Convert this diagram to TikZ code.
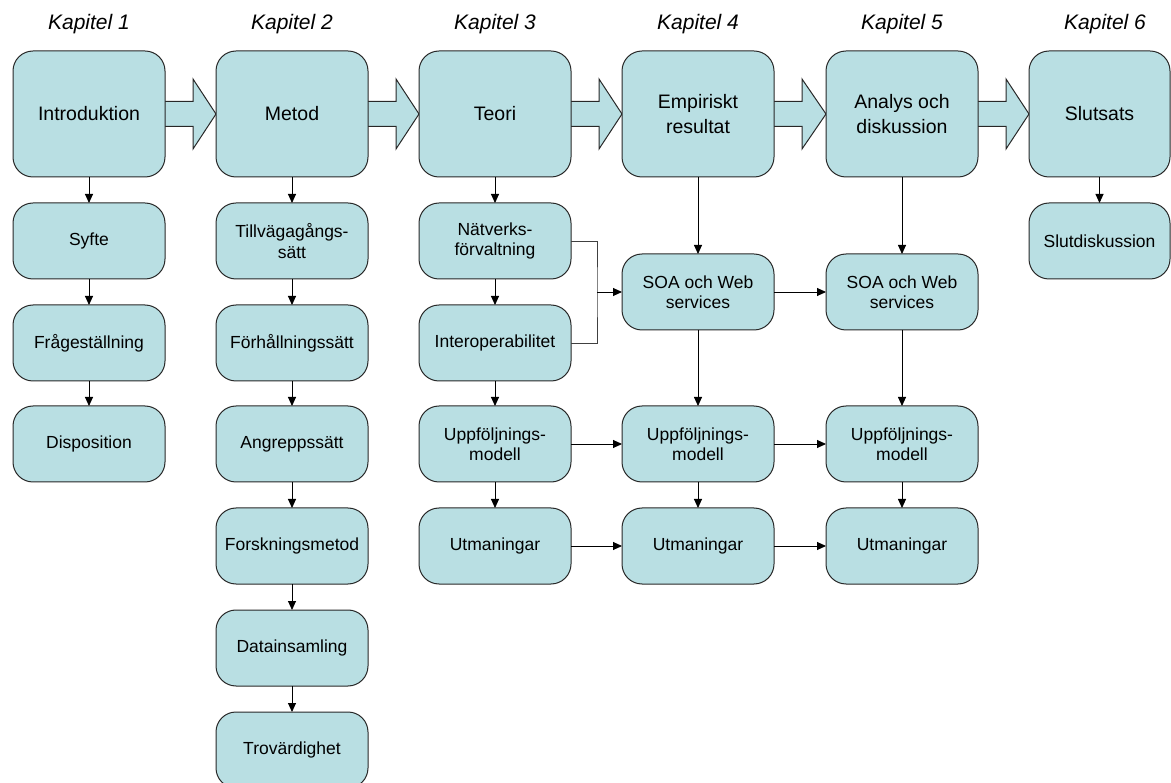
\documentclass[tikz,border=0pt]{standalone}
\usepackage{fontspec}
\setmainfont{Liberation Sans}
\usetikzlibrary{arrows.meta,calc,backgrounds}

\definecolor{boxfill}{RGB}{185,223,227}
\definecolor{boxline}{RGB}{40,40,40}

\tikzset{
  box/.style={draw=boxline, fill=boxfill, line width=1pt, rounded corners=20pt,
    inner sep=0pt, outer sep=0pt, align=center},
  chapterbox/.style={box, minimum width=152pt, minimum height=126pt,
    font=\fontsize{19.5}{24.5}\selectfont},
  itembox/.style={box, minimum width=152pt, minimum height=76pt,
    font=\fontsize{17.5}{20.5}\selectfont},
  chaptertitle/.style={font=\fontsize{21}{24}\selectfont\itshape, inner sep=0pt},
  link/.style={draw=black, line width=0.9pt, -{Triangle[length=9pt,width=8pt]}},
  elbow/.style={draw=black!75, line width=0.9pt},
  flowarrow/.style={draw=boxline, fill=boxfill, line width=1pt, line join=miter},
}

\begin{document}
\begin{tikzpicture}[x=1pt, y=-1pt]
\clip (0,0) rectangle (1171,783);
\useasboundingbox (0,0) rectangle (1171,783);

% chapter headings
\node[chaptertitle] (k1) at (89,24) {Kapitel 1};
\node[chaptertitle] (k2) at (292,24) {Kapitel 2};
\node[chaptertitle] (k3) at (495,24) {Kapitel 3};
\node[chaptertitle] (k4) at (698,24) {Kapitel 4};
\node[chaptertitle] (k5) at (902,24) {Kapitel 5};
\node[chaptertitle] (k6) at (1105,24) {Kapitel 6};

% chapter boxes
\node[chapterbox] (intro) at (89,114) {Introduktion};
\node[chapterbox] (metod) at (292,114) {Metod};
\node[chapterbox] (teori) at (495,114) {Teori};
\node[chapterbox] (emp) at (698,114) {Empiriskt\\resultat};
\node[chapterbox] (anal) at (902,114) {Analys och\\diskussion};
\node[chapterbox, minimum width=141pt] (slut) at (1099.5,114) {Slutsats};

% chapter 1
\node[itembox] (syfte) at (89,241) {Syfte};
\node[itembox] (fraga) at (89,343) {Frågeställning};
\node[itembox] (disp) at (89,444) {Disposition};

% chapter 2
\node[itembox] (till) at (292,241) {Tillvägagångs-\\sätt};
\node[itembox] (forh) at (292,343) {Förhållningssätt};
\node[itembox] (angr) at (292,444) {Angreppssätt};
\node[itembox] (forsk) at (292,546) {Forskningsmetod};
\node[itembox] (data) at (292,648) {Datainsamling};
\node[itembox] (trov) at (292,750) {Trovärdighet};

% chapter 3
\node[itembox] (nat) at (495,241) {Nätverks-\\förvaltning};
\node[itembox] (inter) at (495,343) {Interoperabilitet};
\node[itembox] (upp3) at (495,444) {Uppföljnings-\\modell};
\node[itembox] (utm3) at (495,546) {Utmaningar};

% chapter 4
\node[itembox] (soa4) at (698,292) {SOA och Web\\services};
\node[itembox] (upp4) at (698,444) {Uppföljnings-\\modell};
\node[itembox] (utm4) at (698,546) {Utmaningar};

% chapter 5
\node[itembox] (soa5) at (902,292) {SOA och Web\\services};
\node[itembox] (upp5) at (902,444) {Uppföljnings-\\modell};
\node[itembox] (utm5) at (902,546) {Utmaningar};

% chapter 6
\node[itembox, minimum width=141pt] (sdisk) at (1099.5,241) {Slutdiskussion};

% block arrows between chapters
\begin{scope}[on background layer]
\foreach \a/\b in {intro/metod, metod/teori, teori/emp, emp/anal, anal/slut}{
  \path[flowarrow]
    ($(\a.east)+(0,-12.5)$) -- ($(\a.east)+(28,-12.5)$) --
    ($(\a.east)+(28,-35)$) -- (\b.west) --
    ($(\a.east)+(28,35)$) -- ($(\a.east)+(28,12.5)$) --
    ($(\a.east)+(0,12.5)$);
}
\end{scope}

% vertical links
\foreach \a/\b in {intro/syfte, syfte/fraga, fraga/disp,
                   metod/till, till/forh, forh/angr, angr/forsk, forsk/data, data/trov,
                   teori/nat, nat/inter, inter/upp3, upp3/utm3,
                   emp/soa4, soa4/upp4, upp4/utm4,
                   anal/soa5, soa5/upp5, upp5/utm5,
                   slut/sdisk}{
  \draw[link] (\a.south) -- (\b.north);
}

% horizontal links
\foreach \a/\b in {soa4/soa5, upp3/upp4, upp4/upp5, utm3/utm4, utm4/utm5}{
  \draw[link] (\a.east) -- (\b.west);
}

% theory topics joined into SOA
\coordinate (jn) at (597,292);
\draw[elbow] (nat.east) -| (jn) |- (inter.east);
\draw[link] (jn) -- (soa4.west);

\end{tikzpicture}
\end{document}
